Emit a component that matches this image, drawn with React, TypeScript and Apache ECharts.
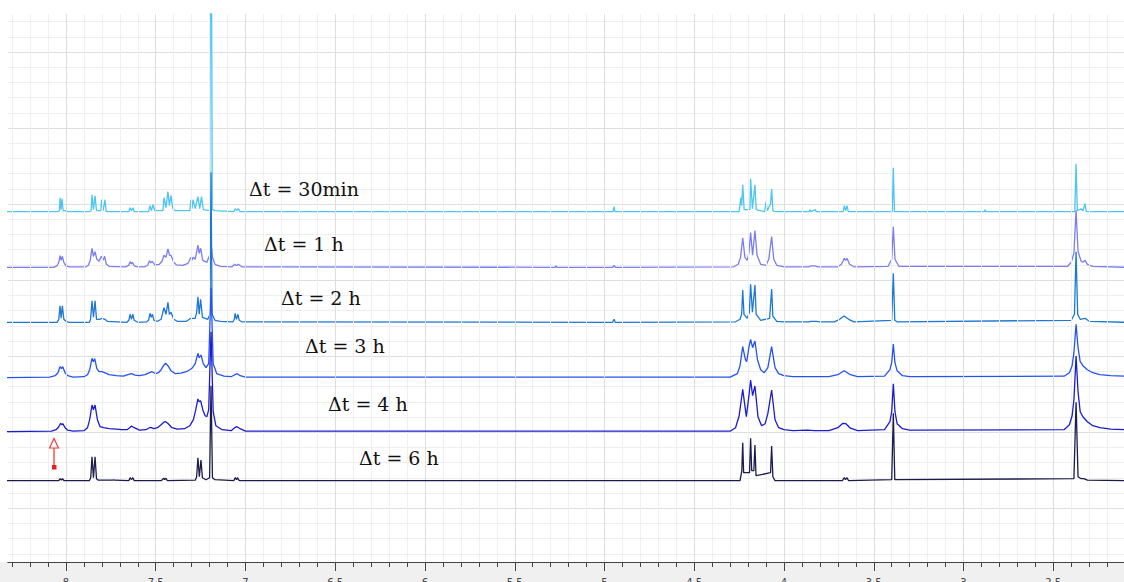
import React, { useEffect, useRef } from "react";
import * as echarts from "echarts";

// chemical shift axis (ppm), reversed: high ppm on the left
const ppmLeft = 8.323;
const ppmRight = 2.106;
const majorTicks = [8, 7.5, 7, 6.5, 6, 5.5, 5, 4.5, 4, 3.5, 3, 2.5];
const tickLabels = ["8", "7.5", "7", "6.5", "6", "5.5", "5", "4.5", "4", "3.5", "3", "2.5"];
const minorTicks = [
  8.3, 8.2, 8.1, 7.9, 7.8, 7.7, 7.6, 7.4, 7.3, 7.2, 7.1, 6.9, 6.8, 6.7, 6.6, 6.4, 6.3, 6.2, 6.1,
  5.9, 5.8, 5.7, 5.6, 5.4, 5.3, 5.2, 5.1, 4.9, 4.8, 4.7, 4.6, 4.4, 4.3, 4.2, 4.1, 3.9, 3.8, 3.7,
  3.6, 3.4, 3.3, 3.2, 3.1, 2.9, 2.8, 2.7, 2.6, 2.4, 2.3, 2.2,
];

// vertical stack (intensity units)
const yTop = 548;
const yMajorLines = [53.7, 129.75, 205.8, 281.85, 357.9, 433.95, 510];
const yMinorStep = 15.21;

const spectrumNames = ["Δt = 30min", "Δt = 1 h", "Δt = 2 h", "Δt = 3 h", "Δt = 4 h", "Δt = 6 h"];
const spectrumColors = ["#4cc6f0", "#7c7cf2", "#1c78d4", "#2453f2", "#1b1bd0", "#1c1c4c"];
const baselines = [350.3, 294.7, 239.7, 184.3, 130.3, 81.3];

// [ppm, intensity above baseline]
const s30min = [
  [8.33, 0], [8.045, 0], [8.037, 1], [8.033, 14], [8.028, 2], [8.022, 13], [8.016, 1], [8.005, 1], [7.99, 0],
  [7.87, 0], [7.86, 1], [7.855, 17], [7.847, 2], [7.838, 16], [7.83, 1], [7.806, 1], [7.802, 12], [7.793, 1], [7.783, 12], [7.776, 0],
  [7.65, 0], [7.643, 4], [7.635, 1], [7.627, 4], [7.62, 0],
  [7.54, 0], [7.532, 6], [7.524, 1], [7.515, 7], [7.505, 1],
  [7.46, 1], [7.454, 14], [7.443, 4], [7.432, 20], [7.424, 6], [7.415, 16], [7.405, 3], [7.39, 1],
  [7.31, 1], [7.304, 12], [7.298, 3], [7.292, 12], [7.28, 3], [7.265, 15], [7.255, 3], [7.245, 15], [7.235, 2],
  [7.2, 1], [7.192, 400], [7.185, 2], [7.17, 1],
  [7.065, 0], [7.058, 3], [7.049, 1], [7.04, 3], [7.03, 0],
  [4.952, 0], [4.947, 5], [4.942, 0],
  [4.25, 0], [4.24, 14], [4.236, 6], [4.23, 27], [4.222, 2], [4.19, 2], [4.186, 33], [4.176, 3], [4.162, 27], [4.155, 2],
  [4.108, 0], [4.1, 10], [4.093, 1], [4.075, 8], [4.069, 23], [4.062, 1], [4.05, 0],
  [3.86, 0], [3.855, 2], [3.85, 0], [3.825, 2], [3.82, 0],
  [3.67, 0], [3.664, 6], [3.657, 1], [3.649, 6], [3.642, 0],
  [3.397, 0], [3.391, 44], [3.385, 0],
  [2.884, 0], [2.88, 2], [2.876, 0],
  [2.38, 0], [2.373, 48], [2.366, 1], [2.345, 3], [2.335, 1], [2.323, 8], [2.316, 0],
  [2.1, 0],
];

const s1h = [
  [8.33, 0], [8.07, 0], [8.05, 1.5], [8.04, 5], [8.033, 11.6], [8.027, 7], [8.02, 11], [8.012, 5], [8.0, 1.5], [7.98, 0.5],
  [7.89, 0.5], [7.875, 2], [7.865, 7], [7.855, 19], [7.847, 11], [7.838, 15.6], [7.828, 8], [7.815, 6], [7.803, 11], [7.793, 7], [7.785, 11], [7.775, 3], [7.76, 1],
  [7.67, 0.5], [7.65, 2], [7.643, 5.6], [7.636, 3.5], [7.63, 5], [7.62, 1.5], [7.6, 0.5],
  [7.56, 0.5], [7.545, 2], [7.535, 6.6], [7.527, 4.5], [7.52, 6], [7.505, 2.5],
  [7.48, 3], [7.465, 6], [7.454, 12], [7.443, 10], [7.432, 18.3], [7.423, 12], [7.415, 12], [7.4, 5], [7.385, 2.5],
  [7.35, 2], [7.32, 4], [7.304, 10], [7.298, 7], [7.292, 10], [7.28, 8], [7.265, 22.3], [7.258, 14], [7.25, 19], [7.238, 7],
  [7.215, 5], [7.2, 12], [7.192, 24.6], [7.184, 10], [7.17, 3], [7.14, 1],
  [7.075, 0.5], [7.06, 3], [7.05, 1.5], [7.04, 3], [7.02, 0.5],
  [5.275, 0], [5.27, 1.5], [5.265, 0],
  [4.955, 0], [4.947, 2], [4.94, 0],
  [4.28, 0.5], [4.255, 3], [4.242, 10], [4.23, 29.6], [4.218, 10], [4.205, 7], [4.195, 15], [4.186, 34.7], [4.175, 12], [4.162, 36.7], [4.15, 12],
  [4.13, 3], [4.1, 2], [4.085, 8], [4.069, 30.7], [4.057, 8], [4.04, 2], [4.0, 0.5],
  [3.86, 0.5], [3.85, 1.5], [3.83, 1.5], [3.81, 0.5],
  [3.7, 0.5], [3.68, 3], [3.664, 9], [3.657, 7], [3.649, 9], [3.635, 3], [3.61, 0.5],
  [3.42, 1], [3.4, 8], [3.391, 40.6], [3.382, 8], [3.36, 1],
  [2.42, 1], [2.4, 5], [2.385, 14], [2.373, 57], [2.362, 16], [2.345, 6], [2.335, 5], [2.323, 7], [2.31, 3], [2.28, 1],
  [2.1, 0],
];

const s2h = [
  [8.33, 0], [8.05, 0], [8.04, 3], [8.033, 16.6], [8.027, 4], [8.02, 16.6], [8.012, 3], [8.0, 1], [7.98, 0],
  [7.87, 0], [7.863, 3], [7.855, 21.6], [7.847, 5], [7.838, 21.6], [7.83, 3], [7.815, 3], [7.8, 4], [7.783, 3], [7.77, 1],
  [7.66, 0], [7.65, 2], [7.643, 8], [7.635, 3], [7.627, 8], [7.62, 2], [7.6, 0],
  [7.55, 0.5], [7.54, 2], [7.532, 9], [7.525, 5], [7.518, 8], [7.51, 2], [7.49, 1],
  [7.47, 3], [7.454, 14.6], [7.443, 8], [7.432, 20], [7.424, 8], [7.415, 10], [7.4, 3], [7.38, 1],
  [7.33, 1], [7.304, 4], [7.292, 4], [7.28, 4], [7.272, 10], [7.265, 25.6], [7.258, 8], [7.25, 23], [7.24, 5],
  [7.21, 3], [7.198, 8], [7.192, 150], [7.186, 8], [7.17, 2], [7.14, 1],
  [7.07, 0.5], [7.062, 3], [7.058, 9], [7.05, 3], [7.042, 8], [7.035, 2], [7.02, 0.5],
  [4.955, 0], [4.947, 3], [4.94, 0],
  [4.27, 0.5], [4.245, 3], [4.236, 8], [4.23, 32.3], [4.223, 8], [4.205, 4], [4.193, 10], [4.186, 38], [4.176, 10], [4.162, 37.3], [4.155, 8],
  [4.13, 2], [4.08, 4], [4.069, 33.3], [4.062, 6], [4.04, 1], [4.0, 0.5],
  [3.86, 0.5], [3.85, 1], [3.82, 1], [3.8, 0.5],
  [3.72, 0.5], [3.69, 3], [3.665, 6.3], [3.64, 3], [3.61, 0.5],
  [3.4, 2], [3.391, 49], [3.383, 2], [3.37, 0.5],
  [2.4, 2], [2.382, 8], [2.373, 70.6], [2.364, 8], [2.35, 3], [2.323, 4], [2.3, 1],
  [2.1, 0],
];

const s3h = [
  [8.33, 0], [8.09, 0.5], [8.06, 2], [8.045, 5], [8.033, 11], [8.025, 9], [8.018, 11], [8.005, 5], [7.99, 2], [7.96, 0.5],
  [7.9, 1], [7.88, 3], [7.868, 8], [7.855, 19.4], [7.847, 16], [7.84, 19], [7.828, 9], [7.815, 6], [7.8, 6], [7.785, 5], [7.76, 3], [7.72, 2],
  [7.68, 1.5], [7.655, 3], [7.635, 4], [7.615, 2.5], [7.59, 2],
  [7.56, 3], [7.535, 5], [7.52, 6], [7.5, 4], [7.485, 5],
  [7.47, 8], [7.455, 12.5], [7.445, 14.4], [7.432, 12], [7.415, 7], [7.39, 4], [7.36, 4.5], [7.33, 6], [7.31, 8], [7.295, 10],
  [7.28, 14], [7.265, 24.4], [7.258, 20], [7.248, 22.7], [7.235, 14], [7.22, 10], [7.205, 14], [7.192, 90], [7.18, 14], [7.16, 4], [7.12, 1.5],
  [7.08, 1], [7.06, 3], [7.045, 4], [7.03, 2], [7.0, 0.5],
  [4.3, 0.5], [4.26, 4], [4.245, 12], [4.23, 31], [4.215, 18], [4.208, 16], [4.196, 30], [4.186, 38.4], [4.175, 30], [4.162, 36.7], [4.148, 18],
  [4.13, 8], [4.11, 5], [4.09, 10], [4.069, 31], [4.05, 10], [4.03, 4], [4.0, 2], [3.95, 1],
  [3.75, 1], [3.7, 3], [3.665, 7], [3.63, 3], [3.59, 1],
  [3.44, 1.5], [3.41, 8], [3.4, 15], [3.391, 33.7], [3.382, 15], [3.37, 7], [3.34, 2], [3.3, 1],
  [2.44, 1.5], [2.41, 5], [2.395, 12], [2.385, 25], [2.373, 53.4], [2.362, 30], [2.35, 16], [2.335, 12], [2.31, 8], [2.28, 5],
  [2.24, 3], [2.18, 2], [2.1, 1.5],
];

const s4h = [
  [8.33, 0], [8.08, 0.5], [8.055, 2], [8.04, 5], [8.03, 8.4], [8.024, 7], [8.018, 8], [8.005, 4], [7.99, 1.5], [7.96, 0.5],
  [7.9, 1], [7.88, 4], [7.868, 12], [7.855, 26.7], [7.847, 22], [7.838, 26.7], [7.825, 12], [7.81, 5], [7.79, 4], [7.76, 3], [7.72, 2.5], [7.69, 2],
  [7.66, 2], [7.645, 4], [7.635, 5.7], [7.62, 4], [7.59, 1.5],
  [7.555, 2], [7.53, 4.4], [7.51, 3], [7.49, 4],
  [7.47, 7], [7.455, 9.5], [7.445, 10], [7.43, 8], [7.41, 4], [7.38, 2.5], [7.34, 3], [7.31, 6], [7.29, 12],
  [7.277, 22], [7.265, 32.7], [7.258, 30], [7.25, 31], [7.238, 22], [7.225, 16], [7.215, 15], [7.205, 22], [7.192, 100], [7.18, 20], [7.165, 6], [7.13, 2],
  [7.08, 1], [7.06, 4], [7.047, 5], [7.03, 3], [7.0, 0.5],
  [4.3, 0.5], [4.27, 4], [4.25, 16], [4.23, 42.4], [4.21, 15], [4.196, 35], [4.186, 51.7], [4.175, 36], [4.162, 45.7], [4.145, 15],
  [4.125, 6], [4.105, 8], [4.09, 18], [4.069, 41.7], [4.05, 12], [4.03, 4], [4.0, 2], [3.95, 1], [3.87, 1.5], [3.83, 1],
  [3.75, 1], [3.7, 4], [3.672, 8.4], [3.655, 8], [3.63, 3.5], [3.59, 1],
  [3.44, 2], [3.41, 10], [3.4, 20], [3.391, 48], [3.382, 20], [3.37, 8], [3.34, 3], [3.3, 1.5],
  [2.44, 2], [2.41, 7], [2.395, 16], [2.385, 32], [2.373, 75.7], [2.362, 40], [2.35, 20], [2.335, 15], [2.31, 10], [2.28, 6],
  [2.24, 4], [2.18, 2.5], [2.1, 2],
];

const s6h = [
  [8.33, 0], [8.04, 0], [8.033, 2], [8.026, 0.5], [8.02, 2], [8.01, 0],
  [7.87, 0], [7.862, 3], [7.855, 24], [7.847, 3], [7.838, 24], [7.83, 2], [7.82, 0.5],
  [7.74, 0.5], [7.735, 1], [7.73, 0.5],
  [7.65, 0], [7.643, 3], [7.635, 1], [7.627, 3], [7.62, 0],
  [7.47, 0], [7.455, 2.5], [7.45, 1], [7.443, 2.5], [7.435, 0],
  [7.28, 0.5], [7.272, 4], [7.265, 23], [7.257, 4], [7.248, 20.7], [7.24, 3], [7.22, 1], [7.2, 3], [7.192, 95], [7.184, 3], [7.17, 1],
  [7.065, 0], [7.058, 3], [7.05, 1], [7.045, 3], [7.035, 0],
  [4.245, 0], [4.235, 10], [4.23, 38], [4.225, 8], [4.192, 8], [4.186, 42.4], [4.18, 10], [4.168, 10], [4.162, 35.7], [4.156, 5],
  [4.075, 8], [4.069, 34.7], [4.062, 4], [4.05, 0],
  [3.675, 0], [3.664, 3], [3.657, 1], [3.649, 3], [3.64, 0],
  [3.4, 1], [3.391, 67.4], [3.383, 1],
  [2.385, 2], [2.373, 78.4], [2.362, 4], [2.345, 2], [2.33, 2], [2.31, 0.5], [2.1, 0],
];

const spectra = [s30min, s1h, s2h, s3h, s4h, s6h];

// annotation text anchors (pixels)
const labelLeft = [249, 264, 281, 305, 328, 359];
const labelMid = [189, 244, 298, 346, 404, 458];

export default function App() {
  const ref = useRef<HTMLDivElement>(null);

  useEffect(() => {
    if (!ref.current) return;
    const chart = echarts.init(ref.current, undefined, { renderer: "svg" });

    const yMinorLines: number[] = [];
    for (let v = yMajorLines[0] - 3 * yMinorStep; v < yTop; v += yMinorStep) {
      if (!yMajorLines.some((m) => Math.abs(m - v) < 1)) yMinorLines.push(+v.toFixed(2));
    }

    const hiddenY = {
      type: "value" as const,
      min: 0,
      max: yTop,
      position: "left" as const,
      axisLine: { show: false },
      axisLabel: { show: false },
    };

    const series = spectra.map((s, i) => ({
      name: spectrumNames[i],
      type: "line" as const,
      xAxisIndex: 0,
      yAxisIndex: 0,
      showSymbol: false,
      symbol: "none",
      silent: true,
      z: 2 + i,
      lineStyle: { color: spectrumColors[i], width: 1.3 },
      data: s.map(([p, h]) => [p, baselines[i] + h]),
    }));

    const graphicEls: any[] = [
      {
        type: "rect",
        z: -100,
        shape: { x: 0, y: 562, width: 1124, height: 20 },
        style: { fill: "#f0f0f0" },
      },
      ...spectrumNames.map((n, i) => ({
        type: "text",
        x: labelLeft[i],
        y: labelMid[i],
        z: 50,
        style: {
          text: n,
          fontSize: 19,
          fontFamily: "'DejaVu Serif', serif",
          fill: "#111",
          align: "left",
          verticalAlign: "middle",
        },
      })),
      {
        type: "line",
        z: 50,
        shape: { x1: 54, y1: 448, x2: 54, y2: 466 },
        style: { stroke: "#f03c3c", lineWidth: 1.3 },
      },
      {
        type: "polygon",
        z: 50,
        shape: { points: [[54, 438.5], [49.5, 448], [58.5, 448]] },
        style: { stroke: "#f03c3c", fill: "#fff", lineWidth: 1.2 },
      },
      {
        type: "rect",
        z: 50,
        shape: { x: 52, y: 465, width: 4.5, height: 4.5 },
        style: { fill: "#e82020" },
      },
    ];

    chart.setOption({
      animation: false,
      backgroundColor: "#ffffff",
      grid: { left: 8, right: 0, top: 14, bottom: 20, containLabel: false, outerBoundsMode: "none" },
      xAxis: [
        {
          type: "value",
          inverse: true,
          min: ppmRight,
          max: ppmLeft,
          position: "bottom",
          z: 5,
          axisLine: { show: true, onZero: false, lineStyle: { color: "#444", width: 1 } },
          axisTick: { show: true, length: 5, customValues: minorTicks, lineStyle: { color: "#444" } },
          axisLabel: { show: false },
          splitLine: { show: true, lineStyle: { color: "#efefef", width: 1 } },
        },
        {
          type: "value",
          inverse: true,
          min: ppmRight,
          max: ppmLeft,
          position: "bottom",
          z: 6,
          axisLine: { show: true, onZero: false, lineStyle: { color: "#444", width: 1 } },
          axisTick: { show: true, length: 9, customValues: majorTicks, lineStyle: { color: "#444" } },
          axisLabel: {
            show: true,
            customValues: majorTicks,
            margin: 15,
            fontSize: 10,
            color: "#444",
            hideOverlap: false,
            fontFamily: "'DejaVu Sans', sans-serif",
            formatter: (v: number) => tickLabels[majorTicks.findIndex((m) => Math.abs(m - v) < 1e-6)] ?? String(v),
          },
          splitLine: { show: true, lineStyle: { color: "#dedede", width: 1 } },
        },
      ],
      yAxis: [
        {
          ...hiddenY,
          axisTick: { show: false, customValues: yMinorLines },
          splitLine: { show: true, lineStyle: { color: "#efefef", width: 1 } },
        },
        {
          ...hiddenY,
          axisTick: { show: false, customValues: yMajorLines },
          splitLine: { show: true, lineStyle: { color: "#dedede", width: 1 } },
        },
      ],
      graphic: { elements: graphicEls },
      series,
    });

    return () => chart.dispose();
  }, []);

  return (
    <div
      ref={ref}
      style={{ position: "absolute", left: 0, top: 0, width: 1124, height: 582 }}
    />
  );
}
